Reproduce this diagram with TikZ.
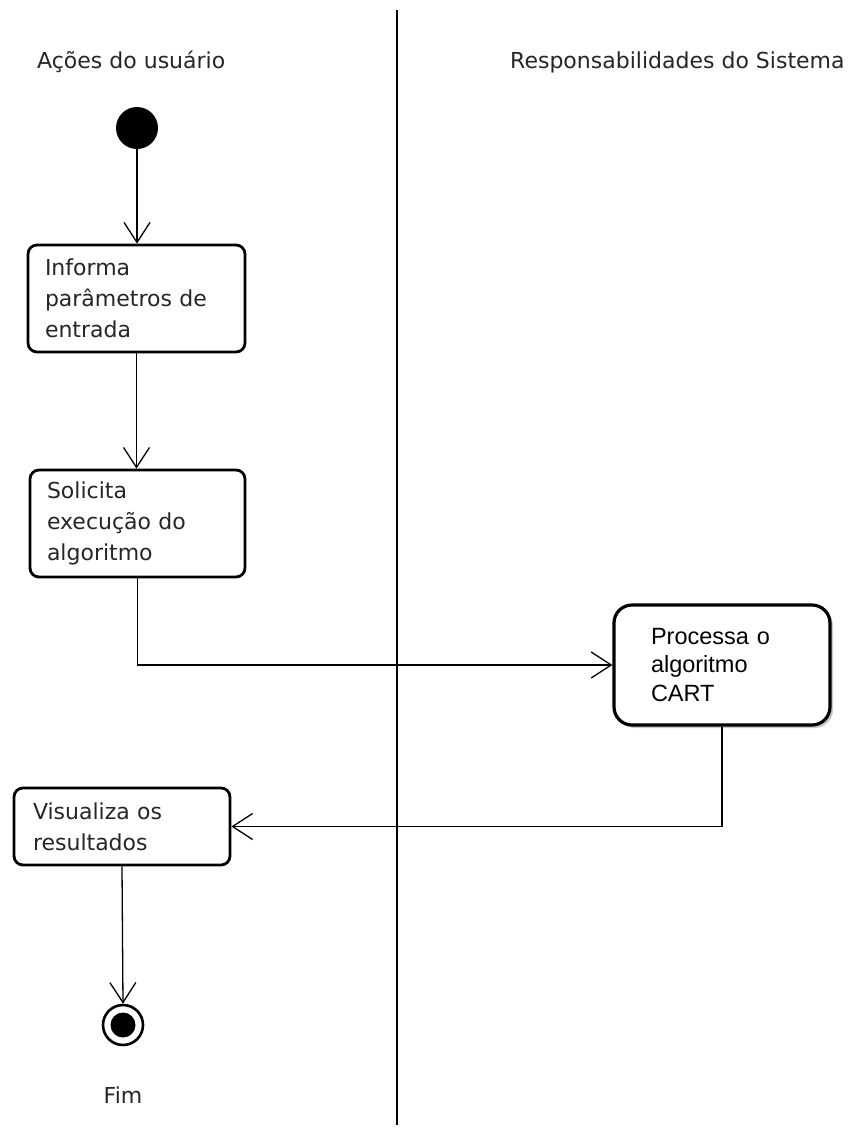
\documentclass[tikz,border=0pt]{standalone}
\usepackage{fontspec}
\setmainfont{DejaVu Sans}
\newfontfamily\arialfont{Liberation Sans}
\usetikzlibrary{arrows.meta,shadows,calc}

\tikzset{
  flow/.style={draw=black, line width=1.3pt, -{Straight Barb[length=20pt,width=26pt,line width=1.3pt]}},
  action/.style={draw=black, line width=2.8pt, rounded corners=9pt, fill=white,
    align=left, inner sep=0pt, font=\fontsize{22}{31}\selectfont, text=black!85},
  sysaction/.style={draw=black, line width=3.2pt, rounded corners=18pt, fill=white,
    align=left, inner sep=0pt, font=\arialfont\fontsize{23.5}{28.5}\selectfont, text=black,
    drop shadow={shadow xshift=3pt, shadow yshift=-3pt, opacity=0.35, fill=black!60}},
  lanetitle/.style={anchor=west, inner sep=0pt, font=\fontsize{22}{26}\selectfont, text=black!85},
}

\begin{document}
\begin{tikzpicture}[x=1pt, y=-1pt]
  \path[use as bounding box, fill=white] (0,0) rectangle (864,1133);

  % swimlane divider and titles
  \coordinate (divtop) at (397,10);
  \coordinate (divbot) at (397,1125);
  \draw[line width=1.3pt] (divtop) -- (divbot);
  \node[lanetitle] (laneuser) at (37,62) {Ações do usuário};
  \node[lanetitle] (lanesys) at (510,62) {Responsabilidades do Sistema};

  % initial state
  \node[circle, fill=black, minimum size=42pt, inner sep=0pt] (start) at (137,128) {};

  % activities
  \node[action, minimum width=217pt, minimum height=107pt, text width=183pt] (b1) at (136.5,298.5)
    {Informa\\parâmetros de\\entrada};
  \node[action, minimum width=215pt, minimum height=107pt, text width=181pt] (b2) at (137.5,523.5)
    {Solicita\\execução do\\algoritmo};
  \node[sysaction, minimum width=216pt, minimum height=120pt, text width=142pt] (b3) at (722,665)
    {Processa o\\algoritmo\\CART};
  \node[action, minimum width=216pt, minimum height=77pt, text width=178pt] (b4) at (122,826.5)
    {Visualiza os\\resultados};

  % final state
  \node[circle, draw=black, line width=2.6pt, fill=white, minimum size=40pt, inner sep=0pt] (end) at (123,1025) {};
  \fill[black] (end.center) circle (12.5pt);
  \node[inner sep=0pt, font=\fontsize{22}{26}\selectfont, text=black!85] (fim) at (123,1095) {Fim};

  % transitions
  \draw[flow] (start) -- (start |- b1.north);
  \draw[flow] (b1.south) -- (b1.south |- b2.north);
  \draw[flow] (b2.south) |- (b3.west);
  \draw[flow] (b3.south) |- (b4.east);
  \draw[flow] (b4.south) -- (end.north);
\end{tikzpicture}
\end{document}
